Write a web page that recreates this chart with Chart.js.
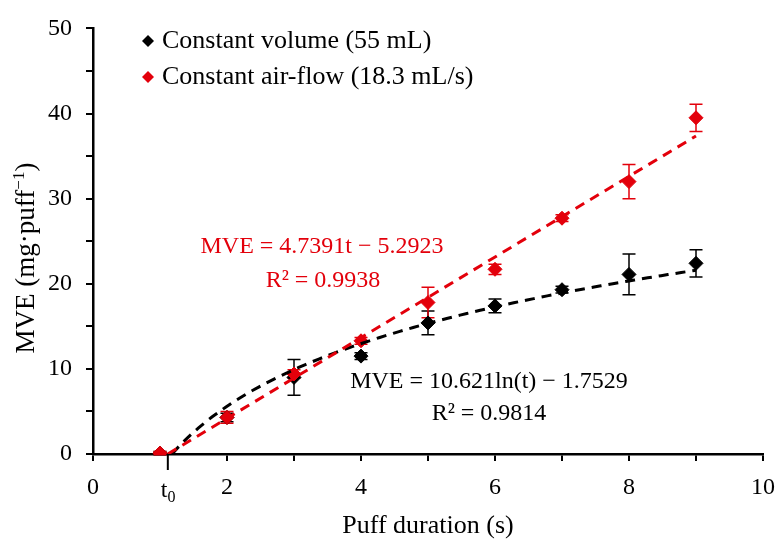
<!DOCTYPE html>
<html>
<head>
<meta charset="utf-8">
<script src="https://cdn.jsdelivr.net/npm/chart.js@4.4.1/dist/chart.umd.min.js"></script>
<style>
  html, body { margin: 0; padding: 0; background: #fff; }
  #wrap { width: 775px; height: 541px; }
</style>
</head>
<body>
<div id="wrap"><canvas id="mveChart" width="775" height="541"></canvas></div>
<script>
// Puff durations (s) and mean MVE values
const durations = [1, 2, 3, 4, 5, 6, 7, 8, 9];
const volumeMVE = [0.1, 4.3, 9.0, 11.5, 15.4, 17.4, 19.3, 21.1, 22.4];
const volumeErr = [0.2, 0.5, 2.1, 0.4, 1.4, 0.8, 0.4, 2.4, 1.6];
const airflowMVE = [0.1, 4.3, 9.4, 13.3, 17.8, 21.7, 27.7, 32.0, 39.5];
const airflowErr = [0.2, 0.7, 0.5, 0.4, 1.8, 0.6, 0.4, 2.0, 1.6];

// Axis ticks
const xTicks = [0, 2, 3, 4, 5, 6, 7, 8, 9, 10];
const xLabels = [0, 2, 4, 6, 8, 10];
const yMax = 50;

// Trend line fits shown on the chart
const linSlope = 4.7391, linIntercept = -5.2923;
const logCoef = 10.621, logIntercept = -1.7529;
const trendEnd = 9;

const RED = '#e3000b';
const BLACK = '#000';
const FONT = '"Liberation Serif", "DejaVu Serif", serif';

// linear trend: from x-intercept (t0) to the last duration
const t0 = -linIntercept / linSlope;
const linTrend = [t0, trendEnd].map(t => ({ x: t, y: linSlope * t + linIntercept }));
// log trend, sampled along its own curve
const logStart = Math.exp(-logIntercept / logCoef);
const logTrend = [];
for (let t = logStart; t < trendEnd; t += 0.1) {
  logTrend.push({ x: t, y: logCoef * Math.log(t) + logIntercept });
}
logTrend.push({ x: trendEnd, y: logCoef * Math.log(trendEnd) + logIntercept });

const toPoints = (ys) => durations.map((x, i) => ({ x: x, y: ys[i] }));

// error bars + annotations drawn through the chart scales
const extrasPlugin = {
  id: 'extras',
  beforeDatasetsDraw(chart) {
    const { ctx, scales: { x, y } } = chart;
    const sets = [
      { vals: volumeMVE, err: volumeErr, color: BLACK },
      { vals: airflowMVE, err: airflowErr, color: RED },
    ];
    ctx.save();
    ctx.lineWidth = 1.5;
    sets.forEach(s => {
      ctx.strokeStyle = s.color;
      durations.forEach((d, i) => {
        const px = x.getPixelForValue(d);
        const top = y.getPixelForValue(s.vals[i] + s.err[i]);
        const bot = y.getPixelForValue(s.vals[i] - s.err[i]);
        ctx.beginPath();
        ctx.moveTo(px, top); ctx.lineTo(px, bot);
        ctx.moveTo(px - 6.5, top); ctx.lineTo(px + 6.5, top);
        ctx.moveTo(px - 6.5, bot); ctx.lineTo(px + 6.5, bot);
        ctx.stroke();
      });
    });
    ctx.restore();
  },
  afterDraw(chart) {
    const { ctx, scales: { x, y }, chartArea } = chart;
    ctx.save();

    // t0 marker on the x axis
    const tx = x.getPixelForValue(t0);
    ctx.strokeStyle = BLACK;
    ctx.lineWidth = 2;
    ctx.beginPath();
    ctx.moveTo(tx, chartArea.bottom);
    ctx.lineTo(tx, chartArea.bottom + 16);
    ctx.stroke();
    ctx.fillStyle = BLACK;
    ctx.textBaseline = 'alphabetic';
    ctx.textAlign = 'left';
    ctx.font = '24px ' + FONT;
    const tw = ctx.measureText('t').width;
    ctx.fillText('t', tx - 7, 497);
    ctx.font = '16px ' + FONT;
    ctx.fillText('0', tx - 7 + tw, 502);

    // axis titles
    ctx.font = '26px ' + FONT;
    ctx.textAlign = 'center';
    ctx.fillText('Puff duration (s)', (chartArea.left + chartArea.right) / 2, 533);

    // y title with a real superscript, rotated
    ctx.save();
    ctx.translate(34, 258);
    ctx.rotate(-Math.PI / 2);
    ctx.textAlign = 'left';
    const main = 'MVE (mg\u00b7puff', sup = '\u22121', close = ')';
    ctx.font = '27px ' + FONT;
    const wMain = ctx.measureText(main).width;
    const wClose = ctx.measureText(close).width;
    ctx.font = '17px ' + FONT;
    const wSup = ctx.measureText(sup).width;
    let cx = -(wMain + wSup + wClose) / 2;
    ctx.font = '27px ' + FONT;
    ctx.fillText(main, cx, 0);
    cx += wMain;
    ctx.font = '17px ' + FONT;
    ctx.fillText(sup, cx, -10);
    cx += wSup;
    ctx.font = '27px ' + FONT;
    ctx.fillText(close, cx, 0);
    ctx.restore();

    // legend
    const legend = [
      { text: 'Constant volume (55 mL)', color: BLACK, y: 41 },
      { text: 'Constant air-flow (18.3 mL/s)', color: RED, y: 77 },
    ];
    legend.forEach(item => {
      ctx.fillStyle = item.color;
      ctx.beginPath();
      ctx.moveTo(148, item.y - 6);
      ctx.lineTo(154, item.y);
      ctx.lineTo(148, item.y + 6);
      ctx.lineTo(142, item.y);
      ctx.closePath();
      ctx.fill();
      ctx.fillStyle = BLACK;
      ctx.textAlign = 'left';
      ctx.textBaseline = 'middle';
      ctx.font = '26px ' + FONT;
      ctx.fillText(item.text, 162, item.y);
    });

    // trend equations
    ctx.textAlign = 'center';
    ctx.textBaseline = 'middle';
    ctx.font = '24px ' + FONT;
    ctx.fillStyle = RED;
    ctx.fillText('MVE = 4.7391t \u2212 5.2923', 322, 247);
    ctx.fillText('R\u00b2 = 0.9938', 323, 281);
    ctx.fillStyle = BLACK;
    ctx.fillText('MVE = 10.621ln(t) \u2212 1.7529', 489, 382);
    ctx.fillText('R\u00b2 = 0.9814', 489, 414);
    ctx.restore();
  }
};

const ctx = document.getElementById('mveChart').getContext('2d');
new Chart(ctx, {
  type: 'scatter',
  data: {
    datasets: [
      {
        label: 'Constant volume (55 mL)',
        data: toPoints(volumeMVE),
        pointStyle: 'rectRot',
        pointRadius: 7,
        backgroundColor: BLACK,
        borderColor: BLACK,
        order: 3,
      },
      {
        label: 'Constant air-flow (18.3 mL/s)',
        data: toPoints(airflowMVE),
        pointStyle: 'rectRot',
        pointRadius: 7,
        backgroundColor: RED,
        borderColor: RED,
        order: 2,
      },
      {
        type: 'line',
        label: 'log fit',
        data: logTrend,
        borderColor: BLACK,
        borderWidth: 3,
        borderDash: [10, 7],
        pointRadius: 0,
        fill: false,
        tension: 0,
        order: 1,
      },
      {
        type: 'line',
        label: 'linear fit',
        data: linTrend,
        borderColor: RED,
        borderWidth: 3,
        borderDash: [10, 7],
        pointRadius: 0,
        fill: false,
        order: 0,
      },
    ],
  },
  options: {
    responsive: false,
    devicePixelRatio: 1,
    animation: false,
    layout: { padding: { left: 0, top: 25, right: 12, bottom: 0 } },
    plugins: {
      legend: { display: false },
      tooltip: { enabled: false },
    },
    scales: {
      x: {
        type: 'linear',
        min: 0,
        max: 10,
        afterFit: (scale) => {
          scale.height = 87;
          scale.paddingRight = 0; // let the layout padding decide the right edge
          scale.paddingLeft = 0;
        },
        afterBuildTicks: (scale) => { scale.ticks = xTicks.map(v => ({ value: v })); },
        border: { color: BLACK, width: 2.5 },
        grid: { drawOnChartArea: false, color: BLACK, lineWidth: 2, tickLength: 7 },
        ticks: {
          color: BLACK,
          padding: 12,
          maxRotation: 0,
          autoSkip: false,
          font: { family: FONT, size: 24 },
          callback: (v) => (xLabels.includes(v) ? String(v) : ''),
        },
      },
      y: {
        type: 'linear',
        min: 0,
        max: yMax,
        afterFit: (scale) => { scale.width = 93; },
        border: { color: BLACK, width: 2.5 },
        grid: { drawOnChartArea: false, color: BLACK, lineWidth: 2, tickLength: 7 },
        ticks: {
          color: BLACK,
          stepSize: 5,
          padding: 14,
          font: { family: FONT, size: 24 },
          callback: (v) => (v % 10 === 0 ? String(v) : ''),
        },
      },
    },
  },
  plugins: [extrasPlugin],
});
</script>
</body>
</html>
